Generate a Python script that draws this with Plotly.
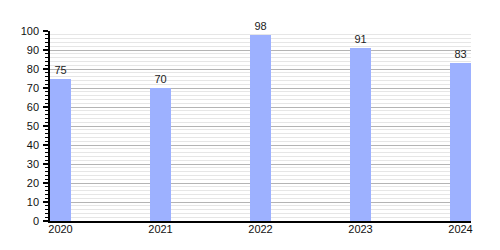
import plotly.graph_objects as go

years = [2020, 2021, 2022, 2023, 2024]
values = [75, 70, 98, 91, 83]
year_labels = ["2020", "2021", "2022", "2023", "2024"]

bar_w = 0.21

fig = go.Figure()
fig.add_trace(go.Bar(
    x=years, y=values, width=bar_w, offset=0,
    marker=dict(color="#9db1ff", line=dict(width=0)),
    text=[str(v) for v in values], textposition="outside",
    textfont=dict(family="Liberation Sans, Arial", size=11, color="#222"),
    cliponaxis=False,
))

fig.update_layout(
    width=500, height=250,
    margin=dict(l=50, r=29, t=31, b=29),
    paper_bgcolor="white", plot_bgcolor="white",
    font=dict(family="Liberation Sans, Arial", size=11, color="#111"),
    showlegend=False,
    bargap=0,
)
fig.update_xaxes(
    range=[years[0], years[-1] + bar_w],
    tickvals=[y + bar_w / 2 for y in years], ticktext=year_labels,
    showgrid=False, showline=True, linecolor="black", linewidth=1.5,
    ticks="", zeroline=False, ticklabelstandoff=-3,
)
fig.update_yaxes(
    range=[0, 100], dtick=10, tick0=0,
    showgrid=True, gridcolor="#b4b4b4", gridwidth=1,
    showline=True, linecolor="black", linewidth=1.5,
    ticks="outside", ticklen=5, tickcolor="black", tickwidth=1.5,
    zeroline=False, ticklabelstandoff=2,
    minor=dict(dtick=2, showgrid=True, gridcolor="#e6e6e6", gridwidth=1,
               ticks="outside", ticklen=3, tickcolor="black", tickwidth=1),
)

fig.write_html("out.html")
